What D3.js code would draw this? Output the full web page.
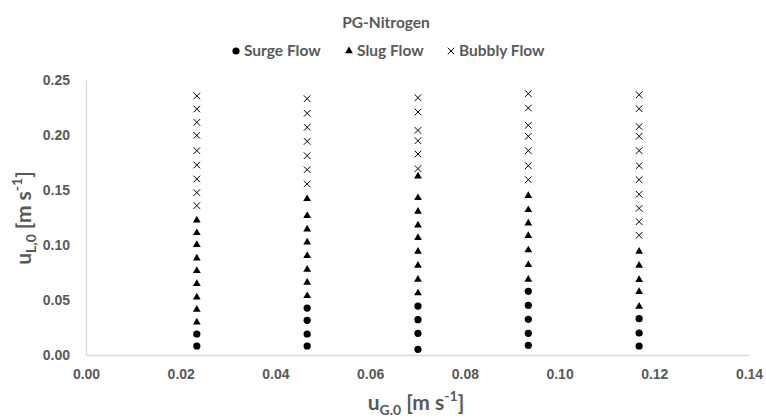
<!DOCTYPE html>
<meta charset="utf-8">
<style>
  body { margin: 0; background: #fff; }
  svg { display: block; font-family: Lato, "Open Sans", sans-serif; }
  .tick text { fill: #595959; font-weight: bold; font-size: 14px; }
</style>
<svg width="766" height="419"></svg>
<script src="https://d3js.org/d3.v7.min.js"></script>
<script>

// gas superficial velocity for each measured column
var gasVel = [0.0234, 0.0467, 0.0701, 0.0934, 0.1168];

// liquid velocities per column, one array per flow regime
var surgeFlow = [
  [0.0082, 0.0191],
  [0.0082, 0.0191, 0.0315, 0.0427],
  [0.0052, 0.0197, 0.0321, 0.0445],
  [0.0088, 0.0197, 0.0324, 0.0452, 0.0579],
  [0.0082, 0.0200, 0.0330]
];
var slugFlow = [
  [0.0303, 0.0418, 0.0530, 0.0652, 0.0770, 0.0885, 0.1006, 0.1115, 0.1230],
  [0.0542, 0.0664, 0.0782, 0.0906, 0.1030, 0.1148, 0.1270, 0.1424],
  [0.0567, 0.0691, 0.0818, 0.0945, 0.1070, 0.1185, 0.1309, 0.1433, 0.1630],
  [0.0691, 0.0824, 0.0958, 0.1088, 0.1203, 0.1324, 0.1452],
  [0.0445, 0.0579, 0.0688, 0.0818, 0.0945]
];
var bubblyFlow = [
  [0.1358, 0.1476, 0.1600, 0.1727, 0.1858, 0.1997, 0.2115, 0.2236, 0.2355],
  [0.1555, 0.1685, 0.1812, 0.1942, 0.2070, 0.2197, 0.2330],
  [0.1694, 0.1827, 0.1948, 0.2042, 0.2209, 0.2339],
  [0.1594, 0.1721, 0.1858, 0.1988, 0.2088, 0.2245, 0.2376],
  [0.1088, 0.1212, 0.1333, 0.1461, 0.1594, 0.1721, 0.1858, 0.1988, 0.2076, 0.2239, 0.2366]
];
var xTicks = [0, 0.02, 0.04, 0.06, 0.08, 0.10, 0.12, 0.14];
var yTicks = [0, 0.05, 0.10, 0.15, 0.20, 0.25];
var seriesNames = ["Surge Flow", "Slug Flow", "Bubbly Flow"];

var svg = d3.select("svg");
var x = d3.scaleLinear().domain([0, 0.14]).range([86, 749]);
var y = d3.scaleLinear().domain([0, 0.25]).range([355, 80]);

function flatten(arr) {
  var out = [];
  arr.forEach(function(col, i) {
    col.forEach(function(v) { out.push([gasVel[i], v]); });
  });
  return out;
}

// axes
var xAxis = svg.append("g").attr("transform", "translate(0,355)")
  .call(d3.axisBottom(x).tickValues(xTicks).tickFormat(d3.format(".2f")).tickSize(0).tickPadding(14));
var yAxis = svg.append("g").attr("transform", "translate(86,0)")
  .call(d3.axisLeft(y).tickValues(yTicks).tickFormat(d3.format(".2f")).tickSize(0).tickPadding(16));
[xAxis, yAxis].forEach(function(a) {
  a.select(".domain").attr("stroke", "#d9d9d9").attr("stroke-width", 1.3);
  a.selectAll("text").attr("font-family", null);
});
yAxis.selectAll("text").attr("dy", "0.35em");

var tri = d3.symbol().type(d3.symbolTriangle).size(26);
var cross = d3.symbol().type(d3.symbolTimes).size(30);

// markers
svg.append("g").selectAll("circle").data(flatten(surgeFlow)).join("circle")
  .attr("cx", function(d) { return x(d[0]); })
  .attr("cy", function(d) { return y(d[1]); })
  .attr("r", 3.6).attr("fill", "#000");

svg.append("g").selectAll("path").data(flatten(slugFlow)).join("path")
  .attr("d", tri)
  .attr("transform", function(d) { return "translate(" + x(d[0]) + "," + (y(d[1]) + 0.5) + ")"; })
  .attr("fill", "#000");

svg.append("g").selectAll("path").data(flatten(bubblyFlow)).join("path")
  .attr("d", cross)
  .attr("transform", function(d) { return "translate(" + x(d[0]) + "," + y(d[1]) + ")"; })
  .attr("fill", "none").attr("stroke", "#000").attr("stroke-width", 1);

// title
svg.append("text").attr("x", 386).attr("y", 28).attr("text-anchor", "middle")
  .attr("fill", "#595959").attr("font-weight", "bold").attr("font-size", 15.5)
  .text("PG-Nitrogen");

// legend
var legendX = [236, 349, 451];
var leg = svg.append("g").attr("transform", "translate(0,56)");
legendX.forEach(function(lx, i) {
  var g = leg.append("g").attr("transform", "translate(" + lx + ",0)");
  if (i === 0) g.append("circle").attr("r", 3.6).attr("cy", -5);
  if (i === 1) g.append("path").attr("d", tri).attr("transform", "translate(0,-5)");
  if (i === 2) g.append("path").attr("d", cross).attr("transform", "translate(0,-5)")
    .attr("fill", "none").attr("stroke", "#000");
  g.append("text").attr("x", 8).attr("fill", "#595959").attr("font-weight", "bold")
    .attr("font-size", 15.5).text(seriesNames[i]);
});

// axis titles
var xt = svg.append("text").attr("x", 416).attr("y", 410).attr("text-anchor", "middle")
  .attr("fill", "#595959").attr("font-weight", "bold").attr("font-size", 21);
xt.append("tspan").text("u");
xt.append("tspan").attr("font-size", 14).attr("dy", 5).text("G.0");
xt.append("tspan").attr("dy", -5).text(" [m s");
xt.append("tspan").attr("font-size", 14).attr("dy", -9).text("-1");
xt.append("tspan").attr("dy", 9).text("]");

var yt = svg.append("text").attr("transform", "translate(31,218) rotate(-90)").attr("text-anchor", "middle")
  .attr("fill", "#595959").attr("font-weight", "bold").attr("font-size", 21);
yt.append("tspan").text("u");
yt.append("tspan").attr("font-size", 14).attr("dy", 5).text("L,0");
yt.append("tspan").attr("dy", -5).text(" [m s");
yt.append("tspan").attr("font-size", 14).attr("dy", -9).text("-1");
yt.append("tspan").attr("dy", 9).text("]");

</script>
